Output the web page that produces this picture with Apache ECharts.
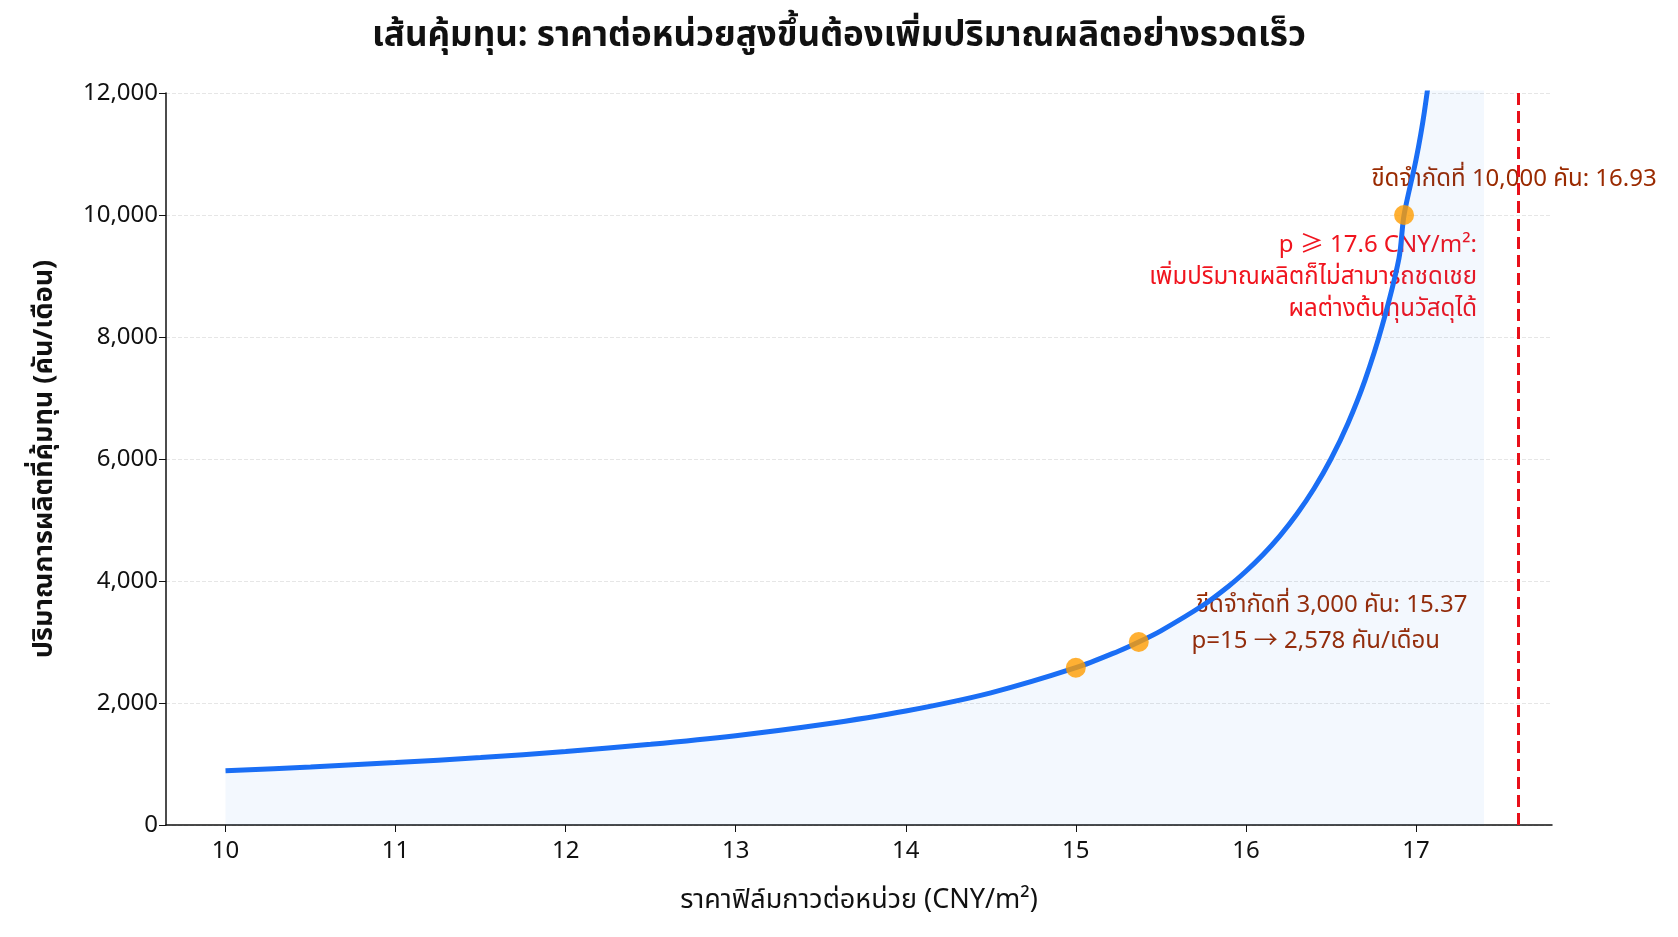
<!DOCTYPE html>
<html><head><meta charset="utf-8">
<script src="https://cdn.jsdelivr.net/npm/echarts@6/dist/echarts.min.js"></script>
<style>html,body{margin:0;padding:0;background:#fff}#c{width:1678px;height:937px}</style>
</head><body><div id="c"></div>
<script>
const prices = [10,10.5,11,11.5,12,12.5,13,13.5,14,14.5,15,15.25,15.37,15.5,15.75,15.9,16,16.1,16.2,16.3,16.4,16.5,16.6,16.7,16.8,16.9,16.93,17.0,17.05,17.1,17.2,17.3,17.4];
const volumes = [889,951,1023,1106,1204,1322,1464,1642,1868,2166,2578,2849,3000,3183,3606,3919,4160,4431,4741,5098,5512,6000,6583,7290,8169,9288,10000,10900,11700,12800,15800,20500,29500];
const keyPoints = [[15,2578],[15.37,3000],[16.93,10000]];
const limitPrice = 17.6;
const xTicks = [10,11,12,13,14,15,16,17];
const F = '"Noto Sans","Noto Sans Thai","Noto Sans CJK SC",sans-serif';
const chart = echarts.init(document.getElementById('c'));
chart.setOption({
  animation:false,
  title:{text:'เส้นคุ้มทุน: ราคาต่อหน่วยสูงขึ้นต้องเพิ่มปริมาณผลิตอย่างรวดเร็ว',left:'center',top:14,textStyle:{fontFamily:F,fontSize:35,fontWeight:'bold',color:'#111'}},
  grid:{left:166,right:126,top:93,bottom:112},
  xAxis:{type:'value',min:9.65,max:17.8,name:'ราคาฟิล์มกาวต่อหน่วย (CNY/m²)',nameLocation:'middle',nameGap:62,
    nameTextStyle:{fontFamily:F,fontSize:27,color:'#111'},
    axisLine:{lineStyle:{color:'#111',width:1.5}},
    axisTick:{show:true,customValues:xTicks,length:7,lineStyle:{color:'#111'}},
    axisLabel:{customValues:xTicks,fontFamily:F,fontSize:24,color:'#111',margin:14},
    splitLine:{show:false}},
  yAxis:{type:'value',min:0,max:12000,interval:2000,name:'ปริมาณการผลิตที่คุ้มทุน (คัน/เดือน)',nameLocation:'middle',nameGap:108,
    nameTextStyle:{fontFamily:F,fontSize:27,fontWeight:'bold',color:'#111'},
    axisLine:{show:true,lineStyle:{color:'#111',width:1.5}},
    axisTick:{show:true,length:7,lineStyle:{color:'#111'}},
    axisLabel:{fontFamily:F,fontSize:24,color:'#111',formatter:v=>v.toLocaleString('en-US')},
    splitLine:{lineStyle:{type:'dashed',color:'#e6e6e6'}}},
  series:[
    {type:'line',data:prices.map((p,i)=>[p,volumes[i]]),smooth:0.3,showSymbol:false,clip:true,
     lineStyle:{color:'#1a6ef5',width:5},areaStyle:{color:'rgba(26,110,245,0.07)'},
     markLine:{silent:true,symbol:'none',label:{show:false},lineStyle:{color:'#e8101a',type:'dashed',width:3},data:[{xAxis:limitPrice}]}},
    {type:'scatter',data:keyPoints,symbolSize:20,itemStyle:{color:'#ff9c00'},z:5}
  ]
});
const px = d=>chart.convertToPixel({gridIndex:0},d);
const a=px([16.93,10000]), b=px([15.37,3000]), c=px([15,2578]);
const dark='#9a2a00', red='#f0141e';
const t=(x,y,text,color,align)=>({type:'text',x,y,style:{text,fill:color,font:'24px '+F,textAlign:align||'center',textVerticalAlign:'middle'}});
chart.setOption({graphic:[
  t(a[0]+110,a[1]-36,'ขีดจำกัดที่ 10,000 คัน: 16.93',dark),
  t(a[0]+73,a[1]+30,'p ≥ 17.6 CNY/m²:',red,'right'),
  t(a[0]+73,a[1]+62,'เพิ่มปริมาณผลิตก็ไม่สามารถชดเชย',red,'right'),
  t(a[0]+73,a[1]+94,'ผลต่างต้นทุนวัสดุได้',red,'right'),
  t(b[0]+193,b[1]-37,'ขีดจำกัดที่ 3,000 คัน: 15.37',dark),
  t(c[0]+240,c[1]-27,'p=15 → 2,578 คัน/เดือน',dark)
]});
</script></body></html>
